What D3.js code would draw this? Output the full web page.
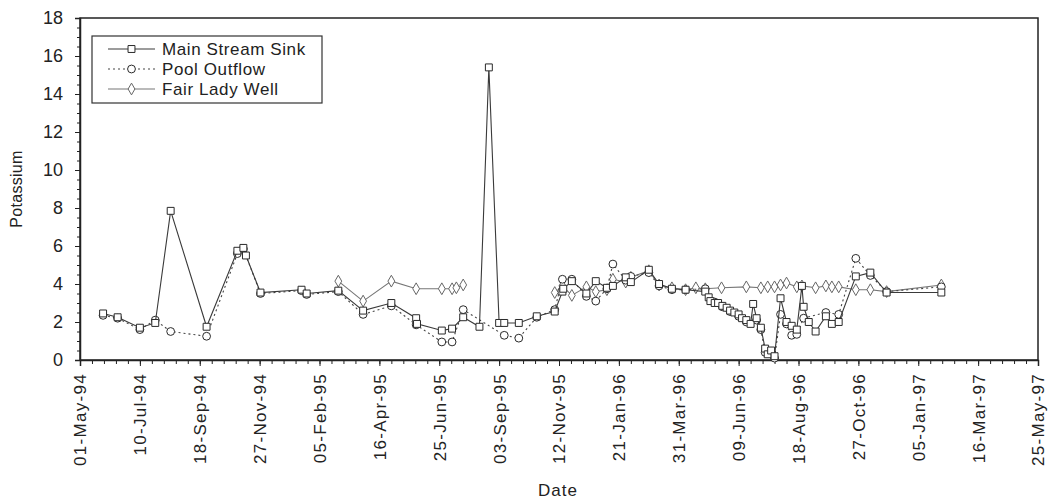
<!DOCTYPE html>
<html>
<head>
<meta charset="utf-8">
<script src="https://cdn.jsdelivr.net/npm/d3@7"></script>
<style>
    body { margin: 0; background: #fff; }
    text { font-family: "Liberation Sans", Arial, sans-serif; fill: #222; }
</style>
</head>
<body>
<svg id="plotSvg"></svg>
<script>
// tick labels on the date axis (every 70 days)
const xTickLabels = ["01-May-94", "10-Jul-94", "18-Sep-94", "27-Nov-94", "05-Feb-95", "16-Apr-95",
    "25-Jun-95", "03-Sep-95", "12-Nov-95", "21-Jan-96", "31-Mar-96", "09-Jun-96", "18-Aug-96",
    "27-Oct-96", "05-Jan-97", "16-Mar-97", "25-May-97"];
const yTicks = [0, 2, 4, 6, 8, 10, 12, 14, 16, 18];

const seriesNames = ["Main Stream Sink", "Pool Outflow", "Fair Lady Well"];

const mssDates = ["1994-05-28", "1994-06-14", "1994-07-10", "1994-07-28", "1994-08-15", "1994-09-26",
    "1994-11-01", "1994-11-08", "1994-11-11", "1994-11-28", "1995-01-15", "1995-01-21", "1995-02-27",
    "1995-03-28", "1995-04-30", "1995-05-29", "1995-05-30", "1995-06-28", "1995-07-10", "1995-07-23",
    "1995-08-11", "1995-08-22", "1995-09-03", "1995-09-09", "1995-09-26", "1995-10-17", "1995-11-07",
    "1995-11-16", "1995-11-17", "1995-11-27", "1995-12-14", "1995-12-25", "1996-01-07", "1996-01-14",
    "1996-01-29", "1996-02-04", "1996-02-25", "1996-03-08", "1996-03-23", "1996-04-08", "1996-05-01",
    "1996-05-05", "1996-05-07", "1996-05-12", "1996-05-16", "1996-05-21", "1996-05-26", "1996-05-30",
    "1996-06-04", "1996-06-09", "1996-06-13", "1996-06-18", "1996-06-23", "1996-06-26", "1996-06-30",
    "1996-07-05", "1996-07-10", "1996-07-13", "1996-07-17", "1996-07-21", "1996-07-28", "1996-08-04",
    "1996-08-10", "1996-08-16", "1996-08-22", "1996-08-24", "1996-08-30", "1996-09-07", "1996-09-19",
    "1996-09-26", "1996-10-04", "1996-10-24", "1996-11-10", "1996-11-29", "1997-02-01"];
const mssValues = [2.45, 2.25, 1.7, 1.95, 7.85, 1.75,
    5.75, 5.9, 5.5, 3.55, 3.7, 3.5, 3.65,
    2.6, 3.0, 2.2, 1.9, 1.55, 1.65, 2.25,
    1.75, 15.4, 1.95, 1.95, 1.95, 2.3, 2.55,
    3.6, 3.75, 4.15, 3.5, 4.15, 3.8, 3.9,
    4.35, 4.1, 4.75, 4.0, 3.75, 3.7, 3.6,
    3.3, 3.1, 3.0, 3.0, 2.85, 2.75, 2.6,
    2.5, 2.4, 2.2, 2.1, 1.9, 2.95, 2.2,
    1.7, 0.6, 0.3, 0.5, 0.2, 3.25, 2.0,
    1.8, 1.6, 3.9, 2.8, 2.0, 1.5, 2.3,
    1.9, 2.0, 4.4, 4.6, 3.55, 3.55];

const poolDates = ["1994-05-28", "1994-06-14", "1994-07-10", "1994-07-28", "1994-08-15", "1994-09-26",
    "1994-11-01", "1994-11-08", "1994-11-28", "1995-01-15", "1995-01-21", "1995-02-27", "1995-03-28",
    "1995-04-30", "1995-05-29", "1995-06-28", "1995-07-10", "1995-07-23", "1995-09-09", "1995-09-26",
    "1995-10-17", "1995-11-07", "1995-11-16", "1995-11-27", "1995-12-14", "1995-12-25", "1996-01-07",
    "1996-01-14", "1996-01-29", "1996-02-04", "1996-02-25", "1996-03-08", "1996-03-23", "1996-04-08",
    "1996-05-01", "1996-05-12", "1996-05-21", "1996-05-30", "1996-06-09", "1996-06-18", "1996-06-30",
    "1996-07-05", "1996-07-10", "1996-07-21", "1996-07-28", "1996-08-04", "1996-08-10", "1996-08-16",
    "1996-08-24", "1996-09-19", "1996-10-04", "1996-10-24", "1996-11-10", "1996-11-29", "1997-02-01"];
const poolValues = [2.35, 2.2, 1.6, 2.1, 1.5, 1.25,
    5.6, 5.85, 3.5, 3.65, 3.45, 3.6, 2.4,
    2.85, 1.85, 0.95, 0.95, 2.65, 1.3, 1.15,
    2.25, 2.65, 4.25, 4.25, 3.35, 3.1, 3.75,
    5.05, 4.2, 4.4, 4.6, 3.9, 3.7, 3.7,
    3.75, 3.05, 2.8, 2.55, 2.3, 2.0, 2.1,
    1.6, 0.4, 0.1, 2.4, 1.9, 1.3, 1.35,
    2.2, 2.5, 2.4, 5.35, 4.45, 3.6, 3.85];

// null = no sample (line breaks there)
const flwDates = ["1995-02-27", "1995-03-28", "1995-04-30", "1995-05-29", "1995-06-28", "1995-07-10",
    "1995-07-15", "1995-07-23", "1995-09-01", "1995-11-07", "1995-11-16", "1995-11-27", "1995-12-14",
    "1995-12-25", "1996-01-07", "1996-01-14", "1996-01-29", "1996-02-04", "1996-02-25", "1996-03-08",
    "1996-03-23", "1996-04-08", "1996-04-20", "1996-05-01", "1996-05-20", "1996-06-18", "1996-07-05",
    "1996-07-13", "1996-07-21", "1996-07-28", "1996-08-04", "1996-08-16", "1996-08-22", "1996-09-07",
    "1996-09-19", "1996-09-26", "1996-10-04", "1996-10-24", "1996-11-10", "1996-11-29", "1997-02-01"];
const flwValues = [4.15, 3.1, 4.15, 3.75, 3.75, 3.75,
    3.8, 3.95, null, 3.55, 3.9, 3.4, 3.85,
    3.6, 3.7, 4.25, 4.1, 4.35, 4.7, 3.95,
    3.8, 3.7, 3.8, 3.75, 3.8, 3.85, 3.8,
    3.85, 3.85, 3.95, 4.05, 3.85, 3.9, 3.8,
    3.9, 3.85, 3.85, 3.7, 3.7, 3.6, 3.95];

const W = 1048, H = 500;
const margin = { top: 18, right: 10, bottom: 140, left: 80 };

const svg = d3.select("#plotSvg")
    .attr("width", W)
    .attr("height", H);

const parseTick = d3.utcParse("%d-%b-%y");
const parseIso = d3.utcParse("%Y-%m-%d");
const tickDates = xTickLabels.map(parseTick);

const x = d3.scaleUtc()
    .domain([tickDates[0], tickDates[tickDates.length - 1]])
    .range([margin.left, W - margin.right]);
const y = d3.scaleLinear()
    .domain([0, 18])
    .range([H - margin.bottom, margin.top]);

function toPoints(dates, values) {
    return dates.map((d, i) => ({ date: parseIso(d), value: values[i] }));
}
const mss = toPoints(mssDates, mssValues);
const pool = toPoints(poolDates, poolValues);
const flw = toPoints(flwDates, flwValues);

// frame
svg.append("rect")
    .attr("x", x.range()[0])
    .attr("y", y.range()[1])
    .attr("width", x.range()[1] - x.range()[0])
    .attr("height", y.range()[0] - y.range()[1])
    .attr("fill", "none")
    .attr("stroke", "#222")
    .attr("stroke-width", 1.5);

// minor ticks every 14 days, then the labelled ones
const minorDates = d3.utcDay.range(tickDates[0], d3.utcDay.offset(tickDates[tickDates.length - 1], 1))
    .filter(d => Math.round((d - tickDates[0]) / 864e5) % 14 === 0);

svg.append("g")
    .attr("transform", `translate(0, ${y(0)})`)
    .call(d3.axisBottom(x).tickValues(minorDates).tickSize(4).tickFormat(""))
    .call(g => g.select(".domain").remove());

svg.append("g")
    .classed("x_axis", true)
    .attr("transform", `translate(0, ${y(0)})`)
    .call(d3.axisBottom(x).tickValues(tickDates).tickSize(6).tickFormat((d, i) => xTickLabels[i]))
    .call(g => g.select(".domain").attr("stroke", "#222").attr("stroke-width", 1.5))
    .selectAll("text")
    .attr("transform", "rotate(-90)")
    .attr("x", -13)
    .attr("y", 0)
    .attr("dy", "0.35em")
    .style("text-anchor", "end")
    .style("font-size", "17px")
    .style("letter-spacing", "1.3px")
    .style("font-family", "Liberation Sans, Arial, sans-serif")
    .attr("fill", "#222");

svg.append("g")
    .attr("transform", `translate(${margin.left}, 0)`)
    .call(d3.axisLeft(y).tickValues(d3.range(0, 18.01, 0.5)).tickSize(3).tickFormat(""))
    .call(g => g.select(".domain").remove());

svg.append("g")
    .classed("y_axis", true)
    .attr("transform", `translate(${margin.left}, 0)`)
    .call(d3.axisLeft(y).tickValues(yTicks).tickSize(5).tickPadding(12))
    .call(g => g.select(".domain").attr("stroke", "#222").attr("stroke-width", 1.5))
    .selectAll("text")
    .style("font-size", "18px")
    .style("font-family", "Liberation Sans, Arial, sans-serif")
    .attr("fill", "#222");

svg.selectAll(".tick line").attr("stroke", "#222");

svg.append("text")
    .attr("transform", `translate(22, ${(y(0) + y(18)) / 2}) rotate(-90)`)
    .attr("text-anchor", "middle")
    .style("font-size", "16px")
    .style("letter-spacing", "0.3px")
    .text("Potassium");

svg.append("text")
    .attr("x", 558)
    .attr("y", 496)
    .attr("text-anchor", "middle")
    .style("font-size", "17px")
    .style("letter-spacing", "1px")
    .text("Date");

const line = d3.line()
    .defined(d => d.value !== null)
    .x(d => x(d.date))
    .y(d => y(d.value));

const styles = [
    { data: mss, stroke: "#3a3a3a", dash: null, shape: d3.symbolSquare },
    { data: pool, stroke: "#444", dash: "2,3", shape: d3.symbolCircle },
    { data: flw, stroke: "#777", dash: null, shape: d3.symbolDiamond }
];

// draw Fair Lady Well underneath, sink on top
[2, 1, 0].forEach(k => {
    const s = styles[k];
    svg.append("path")
        .datum(s.data)
        .attr("d", line)
        .attr("fill", "none")
        .attr("stroke", s.stroke)
        .attr("stroke-width", 1.1)
        .attr("stroke-dasharray", s.dash);

    svg.append("g")
        .selectAll("path")
        .data(s.data.filter(d => d.value !== null))
        .join("path")
        .attr("transform", d => `translate(${x(d.date)}, ${y(d.value)})`)
        .attr("d", d3.symbol().type(s.shape).size(k === 2 ? 40 : 48))
        .attr("fill", "#fff")
        .attr("stroke", k === 2 ? "#666" : "#2a2a2a")
        .attr("stroke-width", 1);
});

// legend
const legend = svg.append("g").attr("transform", "translate(92, 36)");
legend.append("rect")
    .attr("width", 230)
    .attr("height", 67)
    .attr("fill", "#fff")
    .attr("stroke", "#333")
    .attr("stroke-width", 1.2);

seriesNames.forEach((name, i) => {
    const s = styles[i];
    const ly = 13 + i * 20;
    legend.append("line")
        .attr("x1", 16).attr("x2", 63)
        .attr("y1", ly).attr("y2", ly)
        .attr("stroke", s.stroke)
        .attr("stroke-width", 1.1)
        .attr("stroke-dasharray", s.dash);
    legend.append("path")
        .attr("transform", `translate(39.5, ${ly})`)
        .attr("d", d3.symbol().type(s.shape).size(i === 2 ? 40 : 48))
        .attr("fill", "#fff")
        .attr("stroke", i === 2 ? "#666" : "#2a2a2a");
    legend.append("text")
        .attr("x", 70)
        .attr("y", ly)
        .attr("dy", "0.35em")
        .style("font-size", "17px")
        .style("letter-spacing", "0.6px")
        .text(name);
});
</script>
</body>
</html>
